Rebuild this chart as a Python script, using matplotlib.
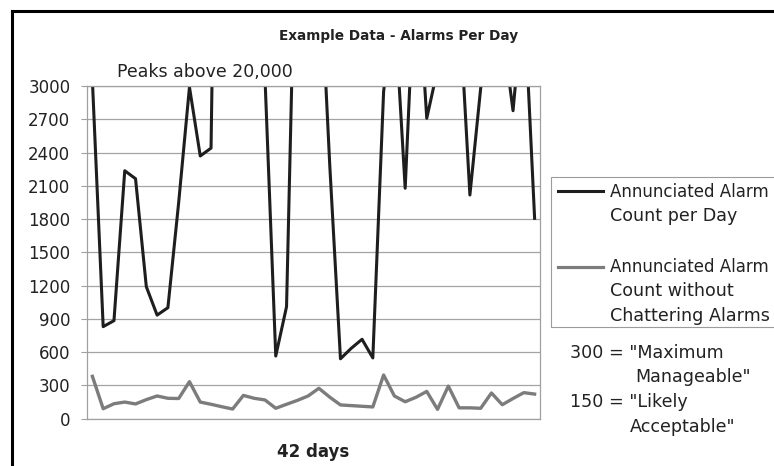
import matplotlib.pyplot as plt
from matplotlib.lines import Line2D
from matplotlib.patches import Rectangle

plt.rcParams["font.family"] = "DejaVu Sans"

# ---------- Canvas helpers (pixel -> figure fraction) ----------
W, H = 774, 466


def fx(px):
    return px / W


def fy(py):
    return 1 - py / H


# ---------- Data: 42 days of alarm counts ----------
days = list(range(1, 43))

# values above 3000 run off the top of the axis (peaks go past 20,000)
annunciated = [
    3050, 830, 884, 2236, 2164, 1190, 934, 1001, 1950, 2990,
    2369, 2440, 9000, 21500, 24000, 12000, 3080, 565, 1010, 5200,
    22000, 4300, 2300, 540, 635, 716, 548, 2950, 3740, 2078,
    4250, 2709, 3150, 20500, 3760, 2017, 2980, 3600, 3520, 2777,
    3850, 1807,
]

no_chatter = [
    382, 90, 135, 150, 133, 172, 205, 184, 182, 334,
    150, 130, 108, 87, 210, 184, 169, 94, 130, 165,
    205, 274, 195, 124, 118, 112, 106, 394, 205, 153,
    193, 246, 84, 294, 98, 98, 94, 232, 126, 182,
    235, 222,
]

y_ticks = list(range(0, 3001, 300))

legend_labels = [
    ["Annunciated Alarm", "Count per Day"],
    ["Annunciated Alarm", "Count without", "Chattering Alarms"],
]
series_colors = ["#1e1e1e", "#7c7c7c"]

# ---------- Figure ----------
fig = plt.figure(figsize=(W / 100, H / 100), dpi=100)
ax = fig.add_axes([fx(87), fy(418.7), (540 - 87) / W, (418.7 - 86) / H])

x = list(range(len(days)))
ax.plot(x, no_chatter, color=series_colors[1], lw=2.4)
ax.plot(x, annunciated, color=series_colors[0], lw=2.2)

ax.set_xlim(-0.5, len(days) - 0.5)
ax.set_ylim(0, 3000)
ax.set_yticks(y_ticks)
ax.set_xticks([])
ax.yaxis.grid(True, color="#a4a4a4", lw=0.9)
ax.set_axisbelow(True)
ax.tick_params(axis="y", length=4, color="#a0a0a0", labelsize=12,
               pad=8, labelcolor="#222222")
for s in ax.spines.values():
    s.set_color("#a0a0a0")
    s.set_linewidth(0.9)

# ---------- Titles / labels ----------
fig.text(fx(399), fy(40), "Example Data - Alarms Per Day", ha="center",
         va="baseline", fontsize=9.8, fontweight="bold", color="#222222")
fig.text(fx(117), fy(77), "Peaks above 20,000", ha="left", va="baseline",
         fontsize=12.5, color="#222222")
fig.text(fx(313.5), fy(457), f"{len(days)} days", ha="center",
         va="baseline", fontsize=12, fontweight="bold", color="#222222")

# ---------- Legend (drawn by hand, runs off the right edge) ----------
fig.add_artist(Rectangle((fx(551), fy(327)), (820 - 551) / W, (327 - 177) / H,
                         transform=fig.transFigure, fill=False,
                         edgecolor="#9c9c9c", lw=0.8))

entry_rows = [(191, 196.7), (266.5, 271.7)]
for (line_y, base_y), lines, c in zip(entry_rows, legend_labels, series_colors):
    fig.add_artist(Line2D([fx(558), fx(603)], [fy(line_y), fy(line_y)],
                          color=c, lw=2.3 if c == series_colors[1] else 2.2,
                          transform=fig.transFigure))
    for k, txt in enumerate(lines):
        # first line is the longest; keep it just inside the canvas
        size = 12.0 if k == 0 else 12.6
        fig.text(fx(610), fy(base_y + k * 24.5), txt, ha="left",
                 va="baseline", fontsize=size, color="#222222")

# ---------- Threshold notes ----------
fig.text(fx(570), fy(358.3), '300 = "Maximum', va="baseline", fontsize=12.6,
         color="#222222")
fig.text(fx(635), fy(381.7), 'Manageable"', va="baseline", fontsize=12.6,
         color="#222222")
fig.text(fx(570), fy(406.7), '150 = "Likely', va="baseline", fontsize=12.6,
         color="#222222")
fig.text(fx(630), fy(431.7), 'Acceptable"', va="baseline", fontsize=12.6,
         color="#222222")

# ---------- Outer frame (left and top edges) ----------
fig.add_artist(Line2D([fx(12), fx(12)], [0, fy(10.5)], color="black",
                      lw=2.2, transform=fig.transFigure))
fig.add_artist(Line2D([fx(12), 1], [fy(10.5), fy(10.5)], color="black",
                      lw=2.2, transform=fig.transFigure))

fig.savefig("out.png", dpi=100)
